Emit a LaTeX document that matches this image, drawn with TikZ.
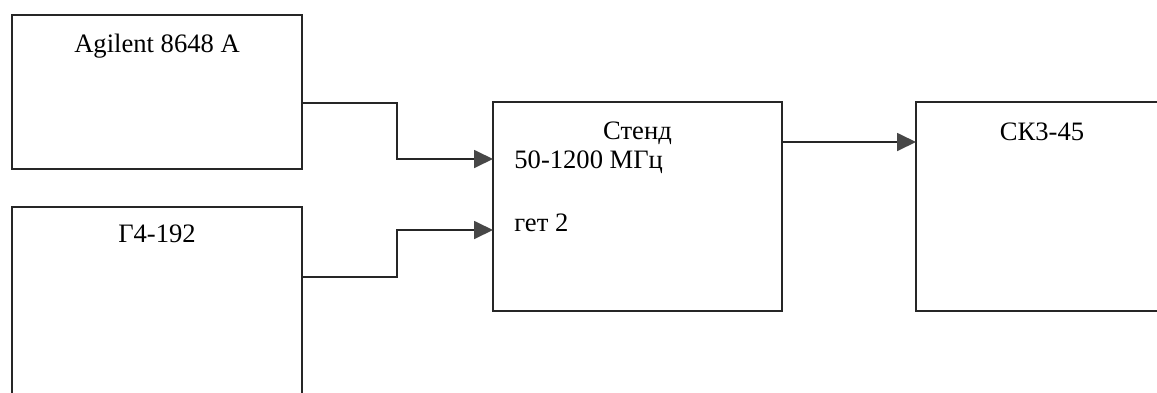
\documentclass[tikz,border=0pt]{standalone}
\usepackage{fontspec}
\setmainfont{Liberation Serif}
\usetikzlibrary{arrows.meta, positioning, calc}

\begin{document}
\begin{tikzpicture}[
        x=0.5pt, y=-0.5pt,
        device/.style={
            rectangle,
            draw=black!85,
            line width=0.9pt,
            inner sep=0pt,
            outer sep=0pt
        },
        boxlabel/.style={
            font=\fontsize{13.3}{15}\selectfont,
            inner sep=0pt
        },
        link/.style={
            draw=black!85,
            line width=0.9pt,
            -{Triangle[length=9.5pt, width=9pt, color=black!72]}
        }
    ]

    % Page frame
    \clip (0,0) rectangle (1157,392);
    \fill[white] (0,0) rectangle (1157,392);

    % Devices
    \node[device, anchor=north west, minimum width=145pt, minimum height=77pt] (agilent) at (12,15) {};
    \node[device, below=19pt of agilent, minimum width=145pt, minimum height=110pt] (gen) {};
    \node[device, anchor=north west, minimum width=144.5pt, minimum height=104.5pt] (stend) at (493,102) {};
    \node[device, right=67pt of stend, minimum width=140pt, minimum height=104.5pt] (skz) {};

    % Labels
    \node[boxlabel] (agilenttext) at ($(agilent.north)+(0,31)$) {Agilent 8648 A};
    \node[boxlabel] (gentext) at ($(gen.north)+(0,27)$) {Г4-192};
    \node[boxlabel] (stendtext) at ($(stend.north)+(0,31)$) {Стенд};
    \node[boxlabel, anchor=west] (bandtext) at ($(stend.north west)+(21,60)$) {50-1200 МГц};
    \node[boxlabel, anchor=west] (gettext) at ($(stend.north west)+(21,121)$) {гет 2};
    \node[boxlabel] (skztext) at ($(skz.north west)+(126,30)$) {СК3-45};

    % Connections
    \draw[link] ($(agilent.north east)+(0,88)$) -- ++(95,0) |- ($(stend.north west)+(0,57)$);
    \draw[link] ($(gen.north east)+(0,70)$) -- ++(95,0) |- ($(stend.north west)+(0,128)$);
    \draw[link] ($(stend.north east)+(0,40)$) -- ($(skz.north west)+(0,40)$);

\end{tikzpicture}
\end{document}
